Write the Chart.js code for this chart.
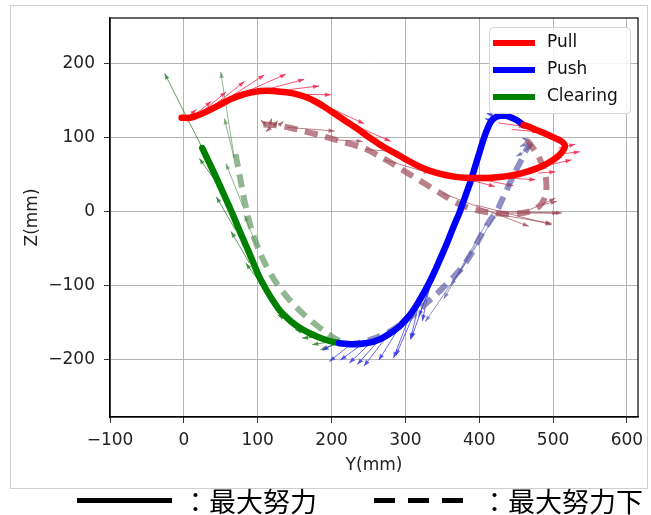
<!DOCTYPE html>
<html>
<head>
<meta charset="utf-8">
<script src="https://cdn.jsdelivr.net/npm/chart.js@4.4.1/dist/chart.umd.min.js"></script>
<style>
  html, body { margin: 0; padding: 0; background: #fff; }
  #frame { position: absolute; left: 10px; top: 5px; width: 636px; height: 482px; border: 1px solid #cfcfcf; }
  #box { position: absolute; left: 0; top: 0; width: 651px; height: 490px; }
  .key { position: absolute; font-family: "Noto Sans CJK JP", sans-serif; font-size: 27px; line-height: 27px; color: #000; white-space: nowrap; }
  .solid { position: absolute; left: 77px; top: 498px; width: 95px; height: 5px; background: #000; }
  .dash { position: absolute; left: 374px; top: 498px; width: 90px; height: 5px;
          background: repeating-linear-gradient(90deg, #000 0 21px, transparent 21px 34px); }
</style>
</head>
<body>
<div id="frame"></div>
<div id="box"><canvas id="c" width="651" height="490"></canvas></div>
<div class="solid"></div><div class="key" style="left:182px; top:487px">：最大努力</div>
<div class="dash"></div><div class="key" style="left:481px; top:487px">：最大努力下</div>
<script>
// axis ticks
const xTicks = [-100, 0, 100, 200, 300, 400, 500, 600];
const yTicks = [-200, -100, 0, 100, 200];

// thick solid trajectories (最大努力)
const pullY = [-3, 8, 18, 30, 42, 55, 68, 82, 96, 110, 124, 138, 152, 165, 178, 190, 202, 214, 226, 238, 250, 262, 275, 288, 300, 313, 326, 340, 354, 368, 382, 396, 410, 424, 438, 452, 465, 478, 490, 500, 508, 513, 516, 514, 507, 497, 486, 475, 467, 460];
const pullZ = [127, 127, 130, 135, 141, 148, 154, 159, 162, 163.5, 163, 161.5, 159, 155, 149, 142, 134, 126, 118, 110, 101, 93, 85, 78, 71, 64, 58, 53, 49.5, 47, 45.7, 45.3, 45.5, 46.5, 48, 50.5, 54, 58.5, 64, 70, 76, 82, 88, 93, 97.5, 102, 107, 111.5, 115, 117];
const pushY = [210, 222, 234, 246, 257, 268, 279, 290, 300, 309, 318, 326, 334, 341, 348, 355, 361, 367, 373, 378, 383, 388, 392, 396, 400, 404, 408, 412, 416, 421, 428, 436, 444, 451, 460];
const pushZ = [-178, -179.3, -179.5, -178.2, -176, -171.5, -165, -157, -147, -136, -122, -108, -93, -78, -62, -46, -31, -16, -2, 12, 26, 40, 53, 66, 79, 92, 104, 114, 122, 127, 129.5, 129.5, 127, 123.5, 117];
const clearY = [25, 34, 43, 52, 61, 68, 75, 82, 89, 96, 102, 109, 116, 123, 130, 139, 148, 158, 169, 180, 192, 201, 211];
const clearZ = [86, 67, 48, 28, 8, -8, -25, -41, -57, -74, -88, -101, -113, -124, -134, -143, -151, -158, -164, -169, -173.5, -176, -178];

// dashed trajectories (最大努力下)
const pullLowY = [108, 122, 136, 150, 164, 178, 192, 206, 220, 234, 248, 261, 274, 287, 300, 313, 326, 339, 352, 365, 378, 392, 406, 420, 434, 447, 458, 467, 475, 482, 487, 490, 491, 490, 487, 482, 476, 470, 464];
const pullLowZ = [118, 117, 115, 112, 108.5, 105, 101, 97, 93, 89, 84, 77, 70, 62, 54, 46, 38, 30, 22, 14, 8, 3, 0, -2, -3, -3, -2, 0, 3, 8, 15, 24, 35, 47, 59, 71, 81, 90, 97];
const pushLowY = [222, 238, 254, 268, 281, 293, 304, 314, 324, 334, 344, 353, 362, 371, 380, 388, 395, 402, 409, 416, 424, 431, 438, 445, 452, 458, 464, 470];
const pushLowZ = [-180, -177.5, -173, -167.5, -161, -153, -145, -137, -128, -119, -110, -101, -92, -82, -71, -59, -46, -33, -21, -10, 1, 16, 31, 46, 60, 72, 84, 93];
const clearLowY = [70, 73, 76, 78.5, 81, 84, 87, 91, 95, 100, 106, 114, 123, 132, 141, 151, 160, 169, 178, 187, 196, 205, 215];
const clearLowZ = [78, 62, 47, 33, 20, 6, -8, -22, -35, -48, -62, -78, -93, -106, -117, -128, -137, -145, -152.5, -159.5, -166, -172, -177];

// force arrows [fromY, fromZ, toY, toZ]
const pullArrows = [
  [5, 128, 17, 138], [14, 130, 37, 149], [25, 135, 57, 162], [40, 143, 82, 176],
  [55, 150, 109, 185], [75, 158, 138, 186], [100, 162, 163, 179], [125, 163, 183, 170],
  [150, 159, 199, 158], [188, 145, 244, 119], [222, 121, 280, 95],
  [379, 45, 421, 34], [395, 45, 446, 35], [417, 47, 476, 43],
  [480, 52, 503, 54], [494, 63, 525, 70], [503, 77, 536, 81], [507, 86, 530, 91],
  [426, 120, 462, 115], [444, 111, 480, 108]
];
const pullLowArrows = [
  [112, 117, 104, 124], [116, 116, 119, 126], [121, 115, 127, 123], [118, 114, 111, 108], [128, 116, 135, 122],
  [140, 114, 204, 109], [206, 97, 242, 95], [246, 84, 289, 81], [272, 70, 333, 52],
  [350, 25, 467, -20], [395, 9, 498, -18], [417, -2, 507, -2], [426, -4, 498, -16],
  [440, 0, 512, -2], [467, 2, 503, 18], [485, 9, 505, 14]
];
const pushArrows = [
  [208, -176, 188, -188], [228, -178, 197, -203], [246, -176, 212, -201], [260, -171, 224, -205],
  [273, -164, 235, -207], [284, -157, 244, -209], [296, -150, 264, -201], [305, -143, 284, -198],
  [318, -125, 307, -173], [332, -105, 323, -148], [350, -60, 318, -142], [355, -38, 308, -172],
  [359, -29, 287, -195], [425, 128, 410, 133], [420, 125, 412, 120], [418, 122, 408, 126]
];
const pushLowArrows = [
  [381, -70, 327, -149], [395, -45, 352, -118], [410, -15, 362, -100], [425, 0, 372, -85],
  [468, 95, 458, 100], [465, 92, 455, 88], [470, 90, 462, 82], [460, 80, 450, 75]
];
const clearArrows = [
  [25, 86, -26, 187], [48, 34, 21, 72], [70, -25, 44, 20], [89, -70, 64, -27], [107, -101, 84, -70],
  [150, -152, 127, -140], [175, -167, 151, -160], [185, -170, 160, -171], [200, -176, 174, -180], [210, -178, 185, -187]
];
const clearLowArrows = [
  [68, 74, 50, 189], [68, 72, 55, 126], [80, 7, 57, 65], [98, -45, 82, -5]
];

const legendNames = ['Pull', 'Push', 'Clearing'];
const legendColors = ['#ff0000', '#0000ff', '#008000'];

const pts = (xs, ys) => xs.map((v, i) => ({ x: v, y: ys[i] }));
const segs = list => {
  const out = [];
  list.forEach(a => out.push({ x: a[0], y: a[1] }, { x: a[2], y: a[3] }, { x: null, y: null }));
  return out;
};

const curve = (data, color, dashed) => ({
  data, borderColor: color, borderWidth: dashed ? 6 : 6.5, borderDash: dashed ? [13, 8] : [],
  borderCapStyle: dashed ? 'butt' : 'round', borderJoinStyle: 'round',
  showLine: true, pointRadius: 0, tension: 0.4, order: dashed ? 2 : 1
});
const arrows = (data, color) => ({
  data, borderColor: color, backgroundColor: color, borderWidth: 1, showLine: true,
  pointRadius: 0, tension: 0, spanGaps: false, arrows: true, order: 3
});

const arrowHeads = {
  id: 'arrowHeads',
  afterDatasetDraw(chart, args) {
    const ds = chart.data.datasets[args.index];
    if (!ds.arrows) return;
    const { ctx, chartArea } = chart;
    const el = args.meta.data;
    ctx.save();
    ctx.beginPath();
    ctx.rect(chartArea.left, chartArea.top, chartArea.right - chartArea.left, chartArea.bottom - chartArea.top);
    ctx.clip();
    ctx.fillStyle = ds.borderColor;
    for (let k = 0; k + 1 < el.length; k += 3) {
      const a = el[k], b = el[k + 1];
      const ang = Math.atan2(b.y - a.y, b.x - a.x);
      const L = 6, W = 2.3, c = Math.cos(ang), s = Math.sin(ang);
      ctx.beginPath();
      ctx.moveTo(b.x, b.y);
      ctx.lineTo(b.x - L * c + W * s, b.y - L * s - W * c);
      ctx.lineTo(b.x - L * c - W * s, b.y - L * s + W * c);
      ctx.closePath();
      ctx.fill();
    }
    ctx.restore();
  }
};

// black box round the plot area, then the legend in its top right corner
const cornerLegend = {
  id: 'cornerLegend',
  afterDraw(chart) {
    const { ctx, chartArea } = chart;
    ctx.save();
    ctx.strokeStyle = '#000';
    ctx.lineWidth = 1.2;
    ctx.strokeRect(chartArea.left, chartArea.top, chartArea.right - chartArea.left, chartArea.bottom - chartArea.top);

    const w = 141, h = 86, x = chartArea.right - 8 - w, y = chartArea.top + 9;
    ctx.fillStyle = 'rgba(255,255,255,0.85)';
    ctx.strokeStyle = '#d6d6d6';
    ctx.lineWidth = 1;
    ctx.beginPath();
    ctx.roundRect(x + 0.5, y + 0.5, w, h, 4);
    ctx.fill();
    ctx.stroke();
    ctx.font = '17px "DejaVu Sans"';
    ctx.textBaseline = 'middle';
    legendNames.forEach((name, i) => {
      const ly = y + 16 + i * 27;
      ctx.strokeStyle = legendColors[i];
      ctx.lineWidth = 6;
      ctx.beginPath();
      ctx.moveTo(x + 4, ly);
      ctx.lineTo(x + 46, ly);
      ctx.stroke();
      ctx.fillStyle = '#111';
      ctx.fillText(name, x + 58, ly);
    });
    ctx.restore();
  }
};

const fmt = v => (v < 0 ? '\u2212' + Math.abs(v) : String(v));
const font = { family: 'DejaVu Sans', size: 17 };

new Chart(document.getElementById('c'), {
  type: 'scatter',
  data: {
    datasets: [
      curve(pts(pullY, pullZ), '#ff0000', false),
      curve(pts(pushY, pushZ), '#0000ff', false),
      curve(pts(clearY, clearZ), '#008000', false),
      curve(pts(pullLowY, pullLowZ), 'rgba(150,60,75,0.65)', true),
      curve(pts(pushLowY, pushLowZ), 'rgba(85,85,165,0.65)', true),
      curve(pts(clearLowY, clearLowZ), 'rgba(70,135,70,0.6)', true),
      arrows(segs(pullArrows), 'rgba(240,30,70,0.75)'),
      arrows(segs(pullLowArrows), 'rgba(150,60,75,0.65)'),
      arrows(segs(pushArrows), 'rgba(50,50,230,0.75)'),
      arrows(segs(pushLowArrows), 'rgba(90,90,170,0.65)'),
      arrows(segs(clearArrows), 'rgba(30,120,30,0.7)'),
      arrows(segs(clearLowArrows), 'rgba(70,135,70,0.6)')
    ]
  },
  options: {
    responsive: false,
    animation: false,
    devicePixelRatio: 1,
    layout: { padding: { top: 18, right: 13, left: 0, bottom: 0 } },
    plugins: { legend: { display: false }, tooltip: { enabled: false } },
    scales: {
      x: {
        type: 'linear', min: -100, max: 615,
        afterBuildTicks: axis => { axis.ticks = xTicks.map(v => ({ value: v })); },
        afterFit: axis => { axis.height = 73; axis.paddingLeft = 0; axis.paddingRight = 0; },
        ticks: { callback: fmt, font, color: '#222', padding: 7, maxRotation: 0 },
        grid: { color: '#b4b4b4', lineWidth: 1, tickLength: 6, tickColor: '#333' },
        border: { color: '#000', width: 1.2 },
        title: { display: true, text: 'Y(mm)', font, color: '#222', padding: { top: 4, bottom: 14 } }
      },
      y: {
        type: 'linear', min: -278, max: 262,
        afterBuildTicks: axis => { axis.ticks = yTicks.map(v => ({ value: v })); },
        afterFit: axis => { axis.width = 110; axis.paddingTop = 0; axis.paddingBottom = 0; },
        ticks: { callback: fmt, font, color: '#222', padding: 9 },
        grid: { color: '#b4b4b4', lineWidth: 1, tickLength: 6, tickColor: '#333' },
        border: { color: '#000', width: 1.2 },
        title: { display: true, text: 'Z(mm)', font, color: '#222', padding: { top: 22, bottom: 4 } }
      }
    }
  },
  plugins: [arrowHeads, cornerLegend]
});
</script>
</body>
</html>
